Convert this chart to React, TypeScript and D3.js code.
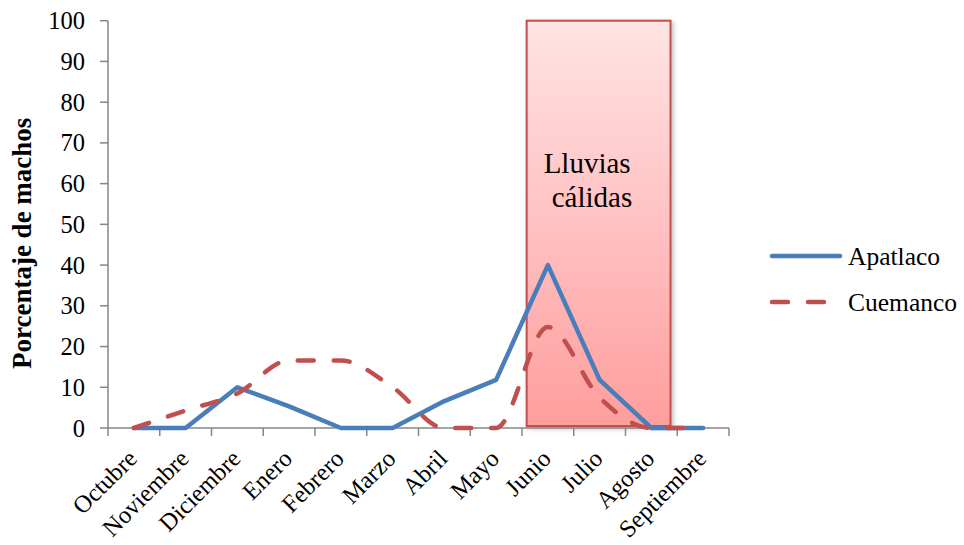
import React from "react";
import * as d3 from "d3";

const months = [
  "Octubre", "Noviembre", "Diciembre", "Enero", "Febrero", "Marzo",
  "Abril", "Mayo", "Junio", "Julio", "Agosto", "Septiembre",
];
const apatlaco = [0, 0, 10, 5.3, 0, 0, 6.6, 11.8, 40, 11.8, 0, 0];
const cuemanco = [0, 4.3, 8.5, 16.6, 16.6, 10, 0, 0, 24.8, 7.5, 0, 0];
const yTicks = [0, 10, 20, 30, 40, 50, 60, 70, 80, 90, 100];
const rainSpan = [8.09, 10.87]; // in category units
const rainLabel = ["Lluvias", "cálidas"];
const seriesNames = ["Apatlaco", "Cuemanco"];

const W = 964;
const H = 545;
const left = 108;
const right = 729;
const top = 20.7;
const bottom = 428;
const FONT = "'Liberation Serif', 'Times New Roman', serif";
const BLUE = "#4a7ebb";
const RED = "#c0504d";
const AXIS = "#868686";

export default function App() {
  const x = d3.scaleBand<string>().domain(months).range([left, right]).padding(0);
  const xLin = d3.scaleLinear().domain([0, months.length]).range([left, right]);
  const y = d3.scaleLinear().domain([0, 100]).range([bottom, top]);
  const cx = (m: string) => (x(m) as number) + x.bandwidth() / 2;

  const lineStraight = d3
    .line<number>()
    .x((_, i) => cx(months[i]))
    .y((d) => y(d));
  const lineSmooth = d3
    .line<number>()
    .x((_, i) => cx(months[i]))
    .y((d) => y(d))
    .curve(d3.curveMonotoneX);

  const rx0 = xLin(rainSpan[0]);
  const rx1 = xLin(rainSpan[1]);
  const boundaries = d3.range(months.length + 1).map((i) => xLin(i));

  return (
    <svg
      width={W}
      height={H}
      style={{ position: "absolute", left: 0, top: 0, background: "#fff" }}
      fontFamily={FONT}
    >
      <defs>
        <linearGradient id="rainGrad" x1="0" y1="0" x2="0" y2="1">
          <stop offset="0%" stopColor="#ffe4e4" />
          <stop offset="100%" stopColor="#ff9e9e" />
        </linearGradient>
        <filter id="shadow" x="-10%" y="-10%" width="130%" height="130%">
          <feDropShadow dx="2" dy="2" stdDeviation="2" floodColor="#000" floodOpacity="0.25" />
        </filter>
      </defs>

      {/* rain rectangle */}
      <rect
        x={rx0}
        y={y(100)}
        width={rx1 - rx0}
        height={y(0) - y(100) - 2}
        fill="url(#rainGrad)"
        stroke={RED}
        strokeWidth={2}
        filter="url(#shadow)"
      />
      <text x={rx0 + 17} y={y(100) + 152} fontSize={29} fill="#000">
        {rainLabel[0]}
      </text>
      <text x={rx0 + 25} y={y(100) + 186} fontSize={29} fill="#000">
        {rainLabel[1]}
      </text>

      {/* y axis */}
      <line x1={left} x2={left} y1={y(100)} y2={y(0)} stroke={AXIS} strokeWidth={1.5} />
      {yTicks.map((t) => (
        <g key={t}>
          <line x1={left - 8} x2={left} y1={y(t)} y2={y(t)} stroke={AXIS} strokeWidth={1.5} />
          <text x={left - 23} y={y(t)} dy="0.35em" textAnchor="end" fontSize={24.5} fill="#000">
            {t}
          </text>
        </g>
      ))}

      {/* x axis */}
      <line x1={left} x2={right} y1={y(0)} y2={y(0)} stroke={AXIS} strokeWidth={1.5} />
      {boundaries.map((b, i) => (
        <line key={i} x1={b} x2={b} y1={y(0)} y2={y(0) + 8} stroke={AXIS} strokeWidth={1.5} />
      ))}
      {months.map((m) => (
        <text
          key={m}
          transform={`translate(${cx(m) + 4.5},${y(0) + 32}) rotate(-45)`}
          textAnchor="end"
          fontSize={24.5}
          fill="#000"
        >
          {m}
        </text>
      ))}

      {/* series */}
      <path
        d={lineStraight(apatlaco) as string}
        fill="none"
        stroke={BLUE}
        strokeWidth={4.5}
        strokeLinejoin="round"
        strokeLinecap="round"
      />
      <path
        d={lineSmooth(cuemanco) as string}
        fill="none"
        stroke={RED}
        strokeWidth={4.5}
        strokeDasharray="16 20"
        strokeLinecap="round"
      />

      {/* y title */}
      <text
        transform={`translate(31,${(y(0) + y(100)) / 2 + 19}) rotate(-90)`}
        textAnchor="middle"
        fontSize={27}
        fontWeight="bold"
        fill="#000"
      >
        Porcentaje de machos
      </text>

      {/* legend */}
      <line x1={772} x2={840} y1={256} y2={256} stroke={BLUE} strokeWidth={4.5} strokeLinecap="round" />
      <text x={848} y={265} fontSize={25.5} fill="#000">
        {seriesNames[0]}
      </text>
      <line
        x1={772}
        x2={840}
        y1={302}
        y2={302}
        stroke={RED}
        strokeWidth={4.5}
        strokeDasharray="16 20"
        strokeLinecap="round"
      />
      <text x={848} y={311} fontSize={25.5} fill="#000">
        {seriesNames[1]}
      </text>
    </svg>
  );
}
